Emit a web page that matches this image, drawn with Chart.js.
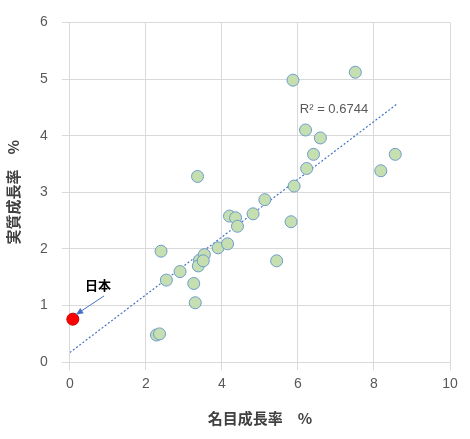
<!DOCTYPE html>
<html><head><meta charset="utf-8">
<script src="https://cdn.jsdelivr.net/npm/chart.js@4"></script>
<style>body{margin:0;background:#fff}#wrap{width:470px;height:439px}</style>
</head><body><div id="wrap"><canvas id="c"></canvas></div>
<script>
// 名目成長率 / 実質成長率 (%)
const nominal = [2.28,2.36,2.4,2.54,2.9,3.26,3.3,3.36,3.41,3.38,3.54,3.51,3.9,4.15,4.2,4.36,4.41,4.82,5.13,5.44,5.82,5.9,5.87,6.2,6.23,6.41,6.59,7.51,8.18,8.56];
const real    = [0.48,0.5,1.96,1.45,1.6,1.39,1.05,3.28,1.8,1.7,1.9,1.79,2.02,2.09,2.58,2.55,2.4,2.62,2.87,1.79,2.48,3.11,4.98,4.1,3.42,3.67,3.96,5.12,3.38,3.67];
const japan = { x: 0.08, y: 0.76 };
const trendX = [0, 8.6];
const slope = 0.51, intercept = 0.17;
const r2Label = 'R² = 0.6744';

const labels = {
  id: 'labels',
  afterDatasetsDraw(chart) {
    const { ctx, scales: { x, y } } = chart;
    ctx.save();
    ctx.font = '13px "Liberation Sans", Arial';
    ctx.fillStyle = '#595959';
    ctx.fillText(r2Label, x.getPixelForValue(6.05), y.getPixelForValue(4.4));
    ctx.font = 'bold 13px "Noto Sans CJK JP"';
    ctx.fillStyle = '#000';
    ctx.fillText('日本', x.getPixelForValue(0.4), y.getPixelForValue(1.28));
    // 矢印
    const x1 = x.getPixelForValue(0.9), y1 = y.getPixelForValue(1.17);
    const x2 = x.getPixelForValue(0.16), y2 = y.getPixelForValue(0.84);
    ctx.strokeStyle = '#4472c4'; ctx.fillStyle = '#4472c4'; ctx.lineWidth = 1;
    ctx.beginPath(); ctx.moveTo(x1, y1); ctx.lineTo(x2, y2); ctx.stroke();
    const a = Math.atan2(y2 - y1, x2 - x1);
    ctx.beginPath(); ctx.moveTo(x2, y2);
    ctx.lineTo(x2 - 8 * Math.cos(a - 0.4), y2 - 8 * Math.sin(a - 0.4));
    ctx.lineTo(x2 - 8 * Math.cos(a + 0.4), y2 - 8 * Math.sin(a + 0.4));
    ctx.closePath(); ctx.fill();
    ctx.restore();
  }
};

new Chart(document.getElementById('c'), {
  type: 'scatter',
  data: {
    datasets: [
      { data: [japan], backgroundColor: '#ff0000', borderColor: '#c00000', pointRadius: 6, borderWidth: 1, clip: false },
      { data: nominal.map((v, i) => ({ x: v, y: real[i] })), backgroundColor: '#c5dfb0', borderColor: '#6e9ccb', pointRadius: 6, borderWidth: 1 },
      { type: 'line', data: trendX.map(v => ({ x: v, y: intercept + slope * v })), borderColor: '#4472c4', borderWidth: 1.2, borderDash: [2, 2], pointRadius: 0, fill: false }
    ]
  },
  options: {
    responsive: true, maintainAspectRatio: false, animation: false,
    layout: { padding: { top: 11, right: 20, left: 0, bottom: 8 } },
    plugins: { legend: { display: false }, tooltip: { enabled: false } },
    scales: {
      x: { min: 0, max: 10, ticks: { stepSize: 2, color: '#595959', font: { size: 14 }, padding: 6 },
           grid: { color: '#d9d9d9' }, border: { display: false },
           afterFit(s) { s.height += 6; },
           title: { display: true, text: '名目成長率　%', font: { size: 15, weight: 'bold', family: '"Noto Sans CJK JP"' }, color: '#404040' } },
      y: { min: 0, max: 6, ticks: { stepSize: 1, color: '#595959', font: { size: 14 }, padding: 14 },
           grid: { color: '#d9d9d9' }, border: { display: false },
           title: { display: true, text: '実質成長率　%', font: { size: 15, weight: 'bold', family: '"Noto Sans CJK JP"' }, color: '#404040' } }
    }
  },
  plugins: [labels]
});
</script></body></html>
